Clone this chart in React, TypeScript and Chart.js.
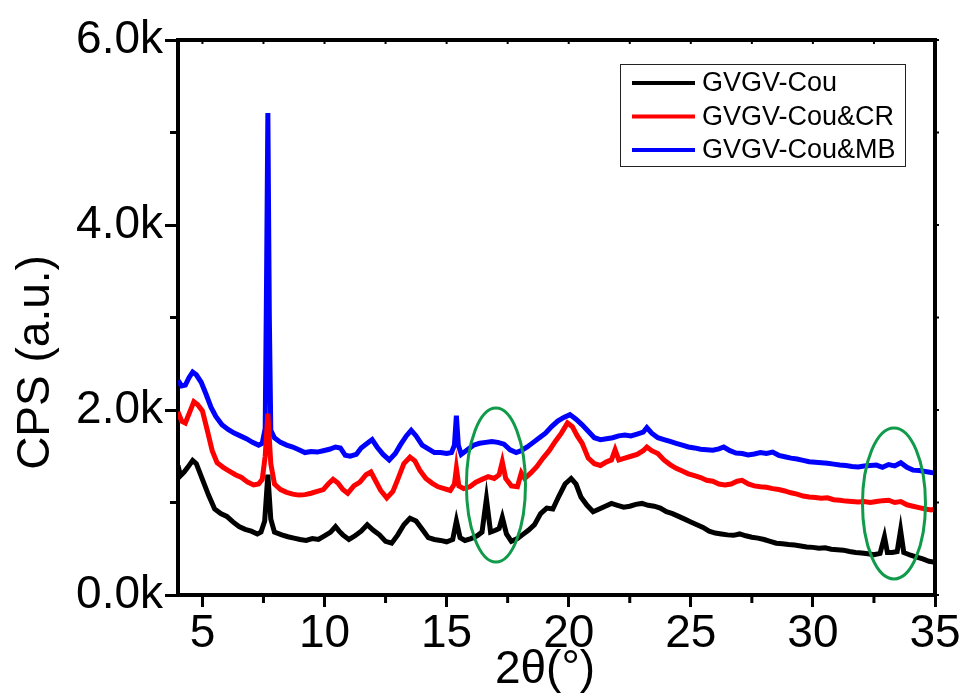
import React, { useEffect, useRef } from "react";
import { Chart, registerables } from "chart.js";

Chart.register(...registerables);

// ---- data ----
const seriesLabels = ["GVGV-Cou", "GVGV-Cou&CR", "GVGV-Cou&MB"];
const seriesColors = ["#000000", "#ff0000", "#0000ff"];

const xTickValues = [5, 10, 15, 20, 25, 30, 35];
const xMinorTickValues = [7.5, 12.5, 17.5, 22.5, 27.5, 32.5];
const yTickValues = [0, 2000, 4000, 6000];
const yMinorTickValues = [1000, 3000, 5000];

const cou: [number, number][] = [
  [4.0, 1400], [4.1, 1290], [4.25, 1330], [4.4, 1380], [4.6, 1455], [4.75, 1420], [5.0, 1250],
  [5.25, 1080], [5.5, 930], [5.75, 880], [6.0, 850], [6.25, 790], [6.5, 740], [6.75, 710],
  [7.0, 690], [7.25, 660], [7.4, 680], [7.55, 800], [7.68, 1300], [7.8, 820], [7.95, 680],
  [8.25, 650], [8.5, 630], [8.75, 615], [9.0, 600], [9.25, 590], [9.5, 610], [9.75, 600],
  [10.0, 640], [10.25, 680], [10.45, 740], [10.6, 690], [10.75, 650], [11.0, 600], [11.25, 640],
  [11.5, 690], [11.75, 760], [12.0, 700], [12.25, 650], [12.5, 580], [12.75, 560], [13.0, 650],
  [13.25, 760], [13.5, 830], [13.75, 800], [14.0, 710], [14.25, 620], [14.5, 600], [14.75, 590],
  [15.0, 575], [15.25, 600], [15.4, 800], [15.55, 620], [15.75, 590], [16.0, 610], [16.25, 640],
  [16.45, 680], [16.63, 1040], [16.8, 680], [17.0, 700], [17.15, 720], [17.28, 840], [17.45, 660],
  [17.65, 580], [17.9, 610], [18.1, 650], [18.35, 700], [18.6, 760], [18.85, 880], [19.1, 940],
  [19.35, 930], [19.6, 1070], [19.85, 1200], [20.1, 1260], [20.3, 1200], [20.5, 1060], [20.75, 970],
  [21.0, 900], [21.25, 930], [21.5, 960], [21.75, 990], [22.0, 970], [22.25, 950], [22.5, 960],
  [22.75, 980], [23.0, 990], [23.25, 970], [23.5, 960], [23.75, 940], [24.0, 900], [24.25, 880],
  [24.5, 850], [24.75, 820], [25.0, 790], [25.25, 760], [25.5, 730], [25.75, 690], [26.0, 670],
  [26.25, 660], [26.5, 650], [26.75, 645], [27.0, 660], [27.25, 640], [27.5, 625], [27.75, 615],
  [28.0, 600], [28.25, 580], [28.5, 560], [28.75, 555], [29.0, 545], [29.25, 540], [29.5, 530],
  [29.75, 520], [30.0, 515], [30.25, 505], [30.5, 510], [30.75, 495], [31.0, 490], [31.25, 485],
  [31.5, 470], [31.75, 460], [32.0, 455], [32.25, 445], [32.5, 435], [32.75, 450], [32.93, 630],
  [33.05, 460], [33.25, 460], [33.45, 470], [33.59, 700], [33.72, 460], [34.0, 430], [34.25, 410],
  [34.5, 390], [34.75, 365], [35.0, 355],
];

const couCR: [number, number][] = [
  [4.0, 1980], [4.15, 1880], [4.3, 1860], [4.5, 1990], [4.65, 2090], [4.8, 2060], [5.0, 1990],
  [5.2, 1780], [5.4, 1560], [5.6, 1430], [5.85, 1380], [6.1, 1340], [6.35, 1300], [6.6, 1270],
  [6.85, 1220], [7.1, 1190], [7.3, 1200], [7.45, 1250], [7.57, 1500], [7.68, 1960], [7.8, 1420],
  [7.95, 1200], [8.2, 1140], [8.45, 1110], [8.7, 1090], [8.95, 1080], [9.2, 1085], [9.45, 1100],
  [9.7, 1120], [9.95, 1140], [10.15, 1200], [10.35, 1250], [10.55, 1210], [10.75, 1140], [10.95, 1100],
  [11.2, 1180], [11.45, 1220], [11.7, 1300], [11.9, 1330], [12.1, 1230], [12.3, 1130], [12.55, 1050],
  [12.8, 1120], [13.0, 1250], [13.25, 1420], [13.5, 1490], [13.7, 1450], [13.9, 1350], [14.15, 1260],
  [14.4, 1210], [14.65, 1170], [14.9, 1150], [15.15, 1130], [15.32, 1200], [15.4, 1370], [15.5, 1180],
  [15.7, 1150], [15.95, 1170], [16.2, 1220], [16.45, 1250], [16.7, 1280], [16.95, 1260], [17.15, 1300],
  [17.28, 1440], [17.42, 1260], [17.65, 1180], [17.9, 1170], [18.06, 1320], [18.2, 1260], [18.45, 1320],
  [18.7, 1390], [18.95, 1480], [19.2, 1560], [19.45, 1660], [19.7, 1750], [19.95, 1860], [20.15, 1820],
  [20.35, 1720], [20.55, 1640], [20.8, 1480], [21.05, 1420], [21.3, 1400], [21.55, 1440], [21.75, 1460],
  [21.9, 1570], [22.05, 1460], [22.3, 1480], [22.55, 1500], [22.8, 1520], [23.05, 1560], [23.2, 1600],
  [23.4, 1560], [23.65, 1530], [23.9, 1460], [24.15, 1410], [24.4, 1370], [24.65, 1340], [24.9, 1310],
  [25.15, 1290], [25.4, 1270], [25.65, 1240], [25.9, 1230], [26.15, 1200], [26.4, 1190], [26.65, 1200],
  [26.9, 1230], [27.1, 1240], [27.35, 1200], [27.6, 1180], [27.85, 1170], [28.1, 1165], [28.35, 1150],
  [28.6, 1140], [28.85, 1125], [29.1, 1105], [29.35, 1090], [29.6, 1070], [29.85, 1060], [30.1, 1055],
  [30.35, 1045], [30.6, 1050], [30.85, 1030], [31.1, 1025], [31.35, 1015], [31.6, 1010], [31.85, 1005],
  [32.1, 1010], [32.35, 1000], [32.6, 1010], [32.85, 1020], [33.1, 1025], [33.35, 1000], [33.6, 1010],
  [33.85, 975], [34.1, 960], [34.35, 945], [34.6, 930], [34.85, 920], [35.0, 930],
];

const couMB: [number, number][] = [
  [4.0, 2320], [4.15, 2260], [4.3, 2270], [4.45, 2350], [4.6, 2410], [4.75, 2380], [4.95, 2300],
  [5.15, 2170], [5.35, 2030], [5.55, 1930], [5.8, 1840], [6.05, 1790], [6.3, 1750], [6.55, 1720],
  [6.8, 1690], [7.05, 1650], [7.3, 1620], [7.45, 1640], [7.57, 1800], [7.62, 3200], [7.68, 5210],
  [7.74, 3000], [7.8, 1780], [7.95, 1700], [8.2, 1650], [8.45, 1620], [8.7, 1600], [8.95, 1570],
  [9.2, 1540], [9.45, 1550], [9.7, 1545], [9.95, 1560], [10.2, 1575], [10.45, 1600], [10.65, 1590],
  [10.85, 1510], [11.05, 1500], [11.3, 1520], [11.5, 1590], [11.75, 1640], [11.95, 1680], [12.15, 1600],
  [12.4, 1520], [12.65, 1460], [12.9, 1530], [13.1, 1620], [13.35, 1720], [13.55, 1780], [13.75, 1720],
  [14.0, 1620], [14.25, 1580], [14.5, 1540], [14.75, 1540], [15.0, 1530], [15.2, 1540], [15.32, 1620],
  [15.4, 1940], [15.48, 1620], [15.6, 1520], [15.85, 1570], [16.1, 1620], [16.35, 1640], [16.6, 1650],
  [16.85, 1660], [17.1, 1650], [17.35, 1630], [17.6, 1570], [17.85, 1540], [18.05, 1560], [18.3, 1600],
  [18.55, 1650], [18.8, 1700], [19.05, 1750], [19.3, 1820], [19.55, 1880], [19.8, 1920], [20.05, 1950],
  [20.3, 1900], [20.55, 1840], [20.8, 1770], [21.05, 1700], [21.3, 1680], [21.55, 1690], [21.8, 1700],
  [22.05, 1720], [22.3, 1730], [22.55, 1720], [22.8, 1740], [23.05, 1760], [23.2, 1810], [23.4, 1750],
  [23.65, 1700], [23.9, 1680], [24.15, 1660], [24.4, 1640], [24.65, 1620], [24.9, 1600], [25.15, 1590],
  [25.4, 1575], [25.65, 1570], [25.9, 1565], [26.15, 1580], [26.35, 1600], [26.6, 1560], [26.85, 1535],
  [27.1, 1530], [27.35, 1515], [27.6, 1525], [27.85, 1540], [28.1, 1530], [28.35, 1545], [28.6, 1510],
  [28.85, 1495], [29.1, 1480], [29.35, 1470], [29.6, 1455], [29.85, 1440], [30.1, 1435], [30.35, 1430],
  [30.6, 1425], [30.85, 1415], [31.1, 1405], [31.35, 1400], [31.6, 1390], [31.85, 1385], [32.1, 1395],
  [32.35, 1400], [32.6, 1405], [32.85, 1380], [33.1, 1410], [33.35, 1395], [33.6, 1430], [33.85, 1380],
  [34.1, 1350], [34.35, 1345], [34.6, 1335], [34.85, 1325], [35.0, 1320],
];

// highlighted regions: [center 2θ, center CPS, half-width 2θ, half-height CPS]
const highlightEllipses: [number, number, number, number][] = [
  [17.02, 1189, 1.21, 832],
  [33.32, 989, 1.29, 816],
];

const FONT = "'Liberation Sans', Arial, sans-serif";

const decorPlugin = {
  id: "decor",
  afterDatasetsDraw(chart: any) {
    const { ctx, scales } = chart;
    const xs = scales.x;
    const ys = scales.y;
    ctx.save();
    ctx.strokeStyle = "#109a4a";
    ctx.lineWidth = 3;
    for (const [cx, cy, rx, ry] of highlightEllipses) {
      const px = xs.getPixelForValue(cx);
      const py = ys.getPixelForValue(cy);
      const prx = Math.abs(xs.getPixelForValue(cx + rx) - px);
      const pry = Math.abs(ys.getPixelForValue(cy + ry) - py);
      ctx.beginPath();
      ctx.ellipse(px, py, prx, pry, 0, 0, Math.PI * 2);
      ctx.stroke();
    }
    ctx.restore();
  },
  afterDraw(chart: any) {
    const { ctx, chartArea, scales, data } = chart;
    const xs = scales.x;
    const ys = scales.y;
    const { left, right, top, bottom } = chartArea;
    ctx.save();
    ctx.strokeStyle = "#000";
    ctx.lineWidth = 4;
    ctx.beginPath();
    ctx.moveTo(left - 2, top);
    ctx.lineTo(right + 2, top);
    ctx.moveTo(right, top);
    ctx.lineTo(right, bottom + 2);
    ctx.stroke();
    ctx.lineWidth = 3;
    ctx.beginPath();
    for (const v of xMinorTickValues) {
      const px = xs.getPixelForValue(v);
      ctx.moveTo(px, bottom);
      ctx.lineTo(px, bottom + 8);
    }
    for (const v of yMinorTickValues) {
      const py = ys.getPixelForValue(v);
      ctx.moveTo(left, py);
      ctx.lineTo(left - 8, py);
    }
    ctx.stroke();
    ctx.lineWidth = 2;
    ctx.beginPath();
    for (const v of [...xTickValues, ...xMinorTickValues]) {
      const px = xs.getPixelForValue(v);
      ctx.moveTo(px, top);
      ctx.lineTo(px, top + 4);
    }
    for (const v of [...yTickValues, ...yMinorTickValues]) {
      const py = ys.getPixelForValue(v);
      ctx.moveTo(right, py);
      ctx.lineTo(right + 4, py);
    }
    ctx.stroke();

    ctx.fillStyle = "#000";
    ctx.font = `46px ${FONT}`;
    ctx.textAlign = "center";
    ctx.textBaseline = "middle";
    ctx.save();
    ctx.translate(36, (top + bottom) / 2 + 45);
    ctx.rotate(-Math.PI / 2);
    ctx.fillText("CPS (a.u.)", 0, 0);
    ctx.restore();
    ctx.fillText("2\u03b8(\u00b0)", 545, 670);

    const bx = 620, by = 64, bw = 285, bh = 102;
    ctx.lineWidth = 1;
    ctx.strokeStyle = "#222";
    ctx.strokeRect(bx + 0.5, by + 0.5, bw, bh);
    ctx.font = `27px ${FONT}`;
    ctx.textAlign = "left";
    ctx.textBaseline = "middle";
    data.datasets.forEach((ds: any, i: number) => {
      const ly = 83 + i * 33.5;
      ctx.strokeStyle = ds.borderColor;
      ctx.lineWidth = 4;
      ctx.beginPath();
      ctx.moveTo(632, ly);
      ctx.lineTo(695, ly);
      ctx.stroke();
      ctx.fillStyle = "#000";
      ctx.fillText(ds.label, 702, ly + 1);
    });
    ctx.restore();
  },
};

export default function App() {
  const ref = useRef<HTMLCanvasElement | null>(null);
  useEffect(() => {
    if (!ref.current) return;
    const seriesData = [cou, couCR, couMB];
    const chart = new Chart(ref.current, {
      type: "line",
      data: {
        datasets: seriesData.map((s, i) => ({
          label: seriesLabels[i],
          data: s.map(([x, y]) => ({ x, y })),
          borderColor: seriesColors[i],
          backgroundColor: seriesColors[i],
          borderWidth: 5,
          pointRadius: 0,
          tension: 0,
          fill: false,
        })),
      },
      options: {
        responsive: false,
        animation: false,
        events: [],
        layout: { padding: { left: 0, right: 30, top: 40, bottom: 0 } },
        plugins: { legend: { display: false }, tooltip: { enabled: false } },
        scales: {
          x: {
            type: "linear",
            min: 4,
            max: 35,
            afterBuildTicks: (scale: any) => {
              scale.ticks = xTickValues.map((v) => ({ value: v }));
            },
            afterFit: (scale: any) => {
              scale.height = 105;
            },
            ticks: {
              color: "#000",
              font: { size: 46, family: FONT },
              padding: 0,
              maxRotation: 0,
              autoSkip: false,
              callback: (v: any) => String(v),
            },
            grid: { display: true, drawOnChartArea: false, tickLength: 12, tickWidth: 3, color: "#000" },
            border: { display: true, color: "#000", width: 4 },
          },
          y: {
            type: "linear",
            min: 0,
            max: 6000,
            afterBuildTicks: (scale: any) => {
              scale.ticks = yTickValues.map((v) => ({ value: v }));
            },
            afterFit: (scale: any) => {
              scale.width = 178;
            },
            ticks: {
              color: "#000",
              font: { size: 46, family: FONT },
              padding: 2,
              autoSkip: false,
              callback: (v: any) => (Number(v) / 1000).toFixed(1) + "k",
            },
            grid: { display: true, drawOnChartArea: false, tickLength: 13, tickWidth: 3, color: "#000" },
            border: { display: true, color: "#000", width: 4 },
          },
        },
      },
      plugins: [decorPlugin],
    });
    return () => chart.destroy();
  }, []);
  return (
    <div style={{ position: "fixed", left: 0, top: 0, width: 965, height: 700, background: "#fff" }}>
      <canvas ref={ref} width={965} height={700} style={{ width: 965, height: 700 }} />
    </div>
  );
}
